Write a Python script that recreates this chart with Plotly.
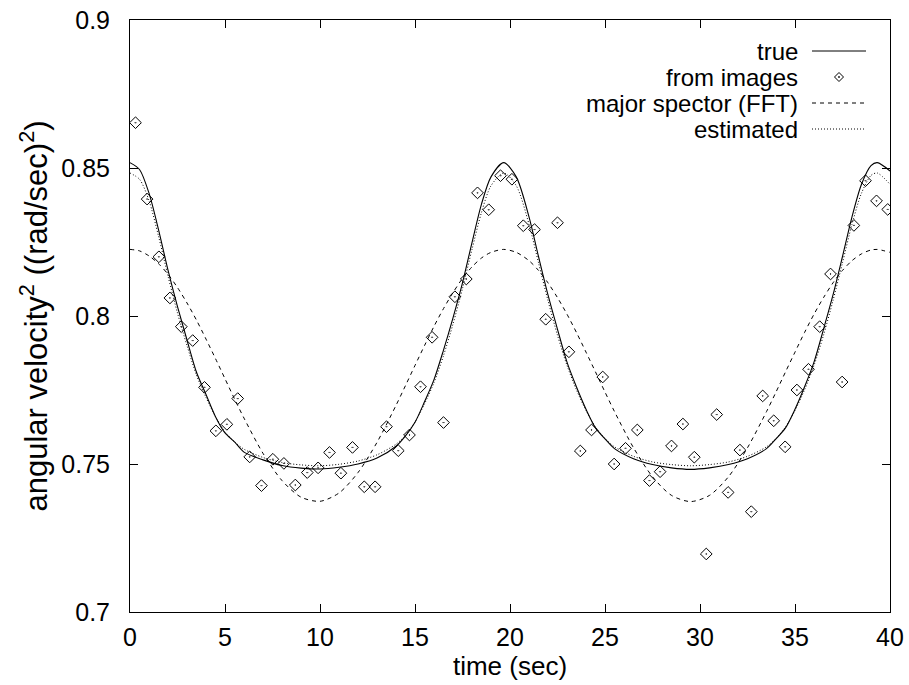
import plotly.graph_objects as go

# ---------------- data ----------------
obs_time = [0.29, 0.9, 1.52, 2.1, 2.7, 3.3, 3.92, 4.52, 5.1, 5.67,
            6.3, 6.92, 7.52, 8.1, 8.7, 9.33, 9.9, 10.5, 11.1, 11.71,
            12.33, 12.9, 13.5, 14.12, 14.71, 15.29, 15.9, 16.5, 17.1, 17.7,
            18.29, 18.88, 19.5, 20.1, 20.7, 21.29, 21.88, 22.5, 23.1, 23.7,
            24.29, 24.88, 25.48, 26.08, 26.7, 27.34, 27.9, 28.5, 29.1, 29.7,
            30.33, 30.88, 31.48, 32.1, 32.7, 33.3, 33.88, 34.48, 35.1, 35.71,
            36.3, 36.87, 37.48, 38.1, 38.71, 39.29, 39.88]
obs_value = [0.8653, 0.8395, 0.8200, 0.8061, 0.7964, 0.7917, 0.7759, 0.7612, 0.7634, 0.7721,
             0.7524, 0.7427, 0.7516, 0.7502, 0.7429, 0.7471, 0.7487, 0.7539, 0.7469, 0.7556,
             0.7423, 0.7423, 0.7626, 0.7545, 0.7598, 0.7761, 0.7928, 0.7640, 0.8065, 0.8125,
             0.8416, 0.8359, 0.8474, 0.8462, 0.8305, 0.8292, 0.7989, 0.8315, 0.7879, 0.7544,
             0.7615, 0.7794, 0.7500, 0.7553, 0.7615, 0.7444, 0.7474, 0.7561, 0.7635, 0.7523,
             0.7196, 0.7667, 0.7404, 0.7547, 0.7339, 0.7730, 0.7646, 0.7558, 0.7750, 0.7820,
             0.7964, 0.8142, 0.7777, 0.8306, 0.8457, 0.8389, 0.8360]

curve_time = [0, 0.5, 1, 1.5, 2, 2.5, 3, 3.5, 4, 4.5, 5, 5.5, 6, 7, 8, 9, 10, 11, 12, 13,
              14, 14.5, 15, 15.5, 16, 16.5, 17, 17.5, 18, 18.5, 19, 19.67, 20.33, 21, 21.5,
              22, 22.5, 23, 23.5, 24, 24.5, 25, 25.5, 26.5, 27.5, 28.5, 29.5, 30.5, 31.5,
              32.5, 33.5, 34, 34.5, 35, 35.5, 36, 36.5, 37, 37.5, 38, 38.5, 39, 39.33, 40]
true_value = [0.8518, 0.8495, 0.8415, 0.8292, 0.8155, 0.8032, 0.7919, 0.7810, 0.7735, 0.7660,
              0.7605, 0.7575, 0.7540, 0.7514, 0.7495, 0.7486, 0.7483, 0.7489, 0.7500, 0.7520,
              0.7560, 0.7595, 0.7641, 0.7710, 0.7785, 0.7885, 0.7994, 0.8112, 0.8248, 0.8378,
              0.8470, 0.8518, 0.8470, 0.8335, 0.8201, 0.8071, 0.7955, 0.7844, 0.7760, 0.7685,
              0.7622, 0.7585, 0.7552, 0.7518, 0.7498, 0.7487, 0.7482, 0.7487, 0.7498, 0.7518,
              0.7552, 0.7585, 0.7622, 0.7685, 0.7760, 0.7844, 0.7955, 0.8071, 0.8201, 0.8335,
              0.8445, 0.8508, 0.8518, 0.8490]
est_value = [0.8483, 0.8462, 0.8390, 0.8270, 0.8135, 0.8010, 0.7900, 0.7800, 0.7725, 0.7660,
             0.7608, 0.7575, 0.7550, 0.7522, 0.7505, 0.7497, 0.7494, 0.7499, 0.7510, 0.7531,
             0.7567, 0.7597, 0.7642, 0.7703, 0.7775, 0.7866, 0.7973, 0.8093, 0.8225, 0.8350,
             0.8440, 0.8483, 0.8440, 0.8310, 0.8180, 0.8052, 0.7935, 0.7833, 0.7750, 0.7681,
             0.7625, 0.7586, 0.7558, 0.7526, 0.7507, 0.7498, 0.7494, 0.7498, 0.7507, 0.7526,
             0.7558, 0.7586, 0.7625, 0.7681, 0.7750, 0.7833, 0.7935, 0.8052, 0.8180, 0.8310,
             0.8415, 0.8475, 0.8483, 0.8445]
fft_value = [0.8225, 0.8220, 0.8203, 0.8177, 0.8141, 0.8096, 0.8044, 0.7986, 0.7922, 0.7856,
             0.7788, 0.7720, 0.7655, 0.7536, 0.7444, 0.7388, 0.7374, 0.7402, 0.7471, 0.7573,
             0.7698, 0.7765, 0.7833, 0.7900, 0.7965, 0.8025, 0.8079, 0.8127, 0.8166, 0.8196,
             0.8215, 0.8225, 0.8215, 0.8187, 0.8154, 0.8112, 0.8062, 0.8006, 0.7944, 0.7878,
             0.7811, 0.7743, 0.7677, 0.7555, 0.7457, 0.7394, 0.7373, 0.7394, 0.7457, 0.7555,
             0.7677, 0.7743, 0.7811, 0.7878, 0.7944, 0.8006, 0.8062, 0.8112, 0.8154, 0.8187,
             0.8210, 0.8223, 0.8225, 0.8215]

x_ticks = [0, 5, 10, 15, 20, 25, 30, 35, 40]
y_ticks = [0.7, 0.75, 0.8, 0.85, 0.9]
y_tick_text = ["0.7", "0.75", "0.8", "0.85", "0.9"]
legend_labels = ["true", "from images", "major spector (FFT)", "estimated"]

# ---------------- layout helpers ----------------
# The page body margin is set to 0 (post_script below), so the figure fills
# the window and the plotting box sits at x 130..890, y 20..612.
W, H = 909, 685
BOX_L, BOX_R, BOX_T, BOX_B = 130, 890, 20, 612
L, T = BOX_L, BOX_T
R, B = W - BOX_R, H - BOX_B
PW, PH = BOX_R - BOX_L, BOX_B - BOX_T
FONT = "Liberation Sans, Arial, Helvetica, sans-serif"
FS = 25
FS_KEY = 24


def pxx(x):
    return (x - BOX_L) / PW


def pyy(y):
    return 1 - (y - BOX_T) / PH


fig = go.Figure()
fig.add_trace(go.Scatter(x=curve_time, y=true_value, mode="lines", name=legend_labels[0],
                         line=dict(color="black", width=1.1, shape="spline", smoothing=0.8),
                         showlegend=False))
fig.add_trace(go.Scatter(x=obs_time, y=obs_value, mode="markers", name=legend_labels[1],
                         marker=dict(symbol="diamond-open-dot", size=9, color="black",
                                     line=dict(width=1, color="black")),
                         showlegend=False))
fig.add_trace(go.Scatter(x=curve_time, y=fft_value, mode="lines", name=legend_labels[2],
                         line=dict(color="black", width=1, dash="4px,4px", shape="spline", smoothing=0.8),
                         showlegend=False))
fig.add_trace(go.Scatter(x=curve_time, y=est_value, mode="lines", name=legend_labels[3],
                         line=dict(color="black", width=1, dash="1px,2px", shape="spline", smoothing=0.8),
                         showlegend=False))

# ---------------- hand-made gnuplot-style key ----------------
rows_y = [51, 77, 103, 129]
text_right = 800
line_x0, line_x1 = 812, 866
shapes = []
annotations = []
for i, lab in enumerate(legend_labels):
    yy = pyy(rows_y[i])
    annotations.append(dict(text=lab, x=pxx(text_right), y=yy, xref="paper", yref="paper",
                            xanchor="right", yanchor="middle", showarrow=False,
                            font=dict(family=FONT, size=FS_KEY, color="black")))
    if i == 1:
        cx, cy, s = 839, rows_y[i], 4.5
        path = "M {} {} L {} {} L {} {} L {} {} Z".format(
            pxx(cx - s), pyy(cy), pxx(cx), pyy(cy - s), pxx(cx + s), pyy(cy), pxx(cx), pyy(cy + s))
        shapes.append(dict(type="path", path=path, xref="paper", yref="paper",
                           line=dict(color="black", width=1)))
        shapes.append(dict(type="circle", xref="paper", yref="paper",
                           x0=pxx(cx - 0.7), x1=pxx(cx + 0.7), y0=pyy(cy + 0.7), y1=pyy(cy - 0.7),
                           line=dict(color="black", width=0.5), fillcolor="black"))
    else:
        dash = {0: "solid", 2: "4px,4px", 3: "1px,2px"}[i]
        shapes.append(dict(type="line", xref="paper", yref="paper",
                           x0=pxx(line_x0), x1=pxx(line_x1), y0=yy, y1=yy,
                           line=dict(color="black", width=1, dash=dash)))

axis_common = dict(showline=True, linecolor="black", linewidth=1, mirror="ticks",
                   ticks="inside", ticklen=8, tickwidth=1, tickcolor="black",
                   showgrid=False, zeroline=False, automargin=False,
                   ticklabeloverflow="allow",
                   tickfont=dict(family=FONT, size=FS, color="black"))

fig.update_layout(
    width=W, height=H,
    margin=dict(l=L, r=R, t=T, b=B, pad=0),
    paper_bgcolor="white", plot_bgcolor="white",
    font=dict(family=FONT, size=FS, color="black"),
    showlegend=False,
    xaxis=dict(range=[0, 40], tickvals=x_ticks, ticklabelstandoff=3,
               title=dict(text="time (sec)", standoff=1,
                          font=dict(family=FONT, size=26, color="black")),
               **axis_common),
    yaxis=dict(range=[0.7, 0.9], tickvals=y_ticks, ticktext=y_tick_text, ticklabelstandoff=14,
               title=dict(text="angular velocity<sup>2</sup> ((rad/sec)<sup>2</sup>)", standoff=4,
                          font=dict(family=FONT, size=31, color="black")),
               **axis_common),
    shapes=shapes,
    annotations=annotations,
)

fig.write_html("out.html", config={"displayModeBar": False},
               post_script="document.body.style.margin='0px';")
